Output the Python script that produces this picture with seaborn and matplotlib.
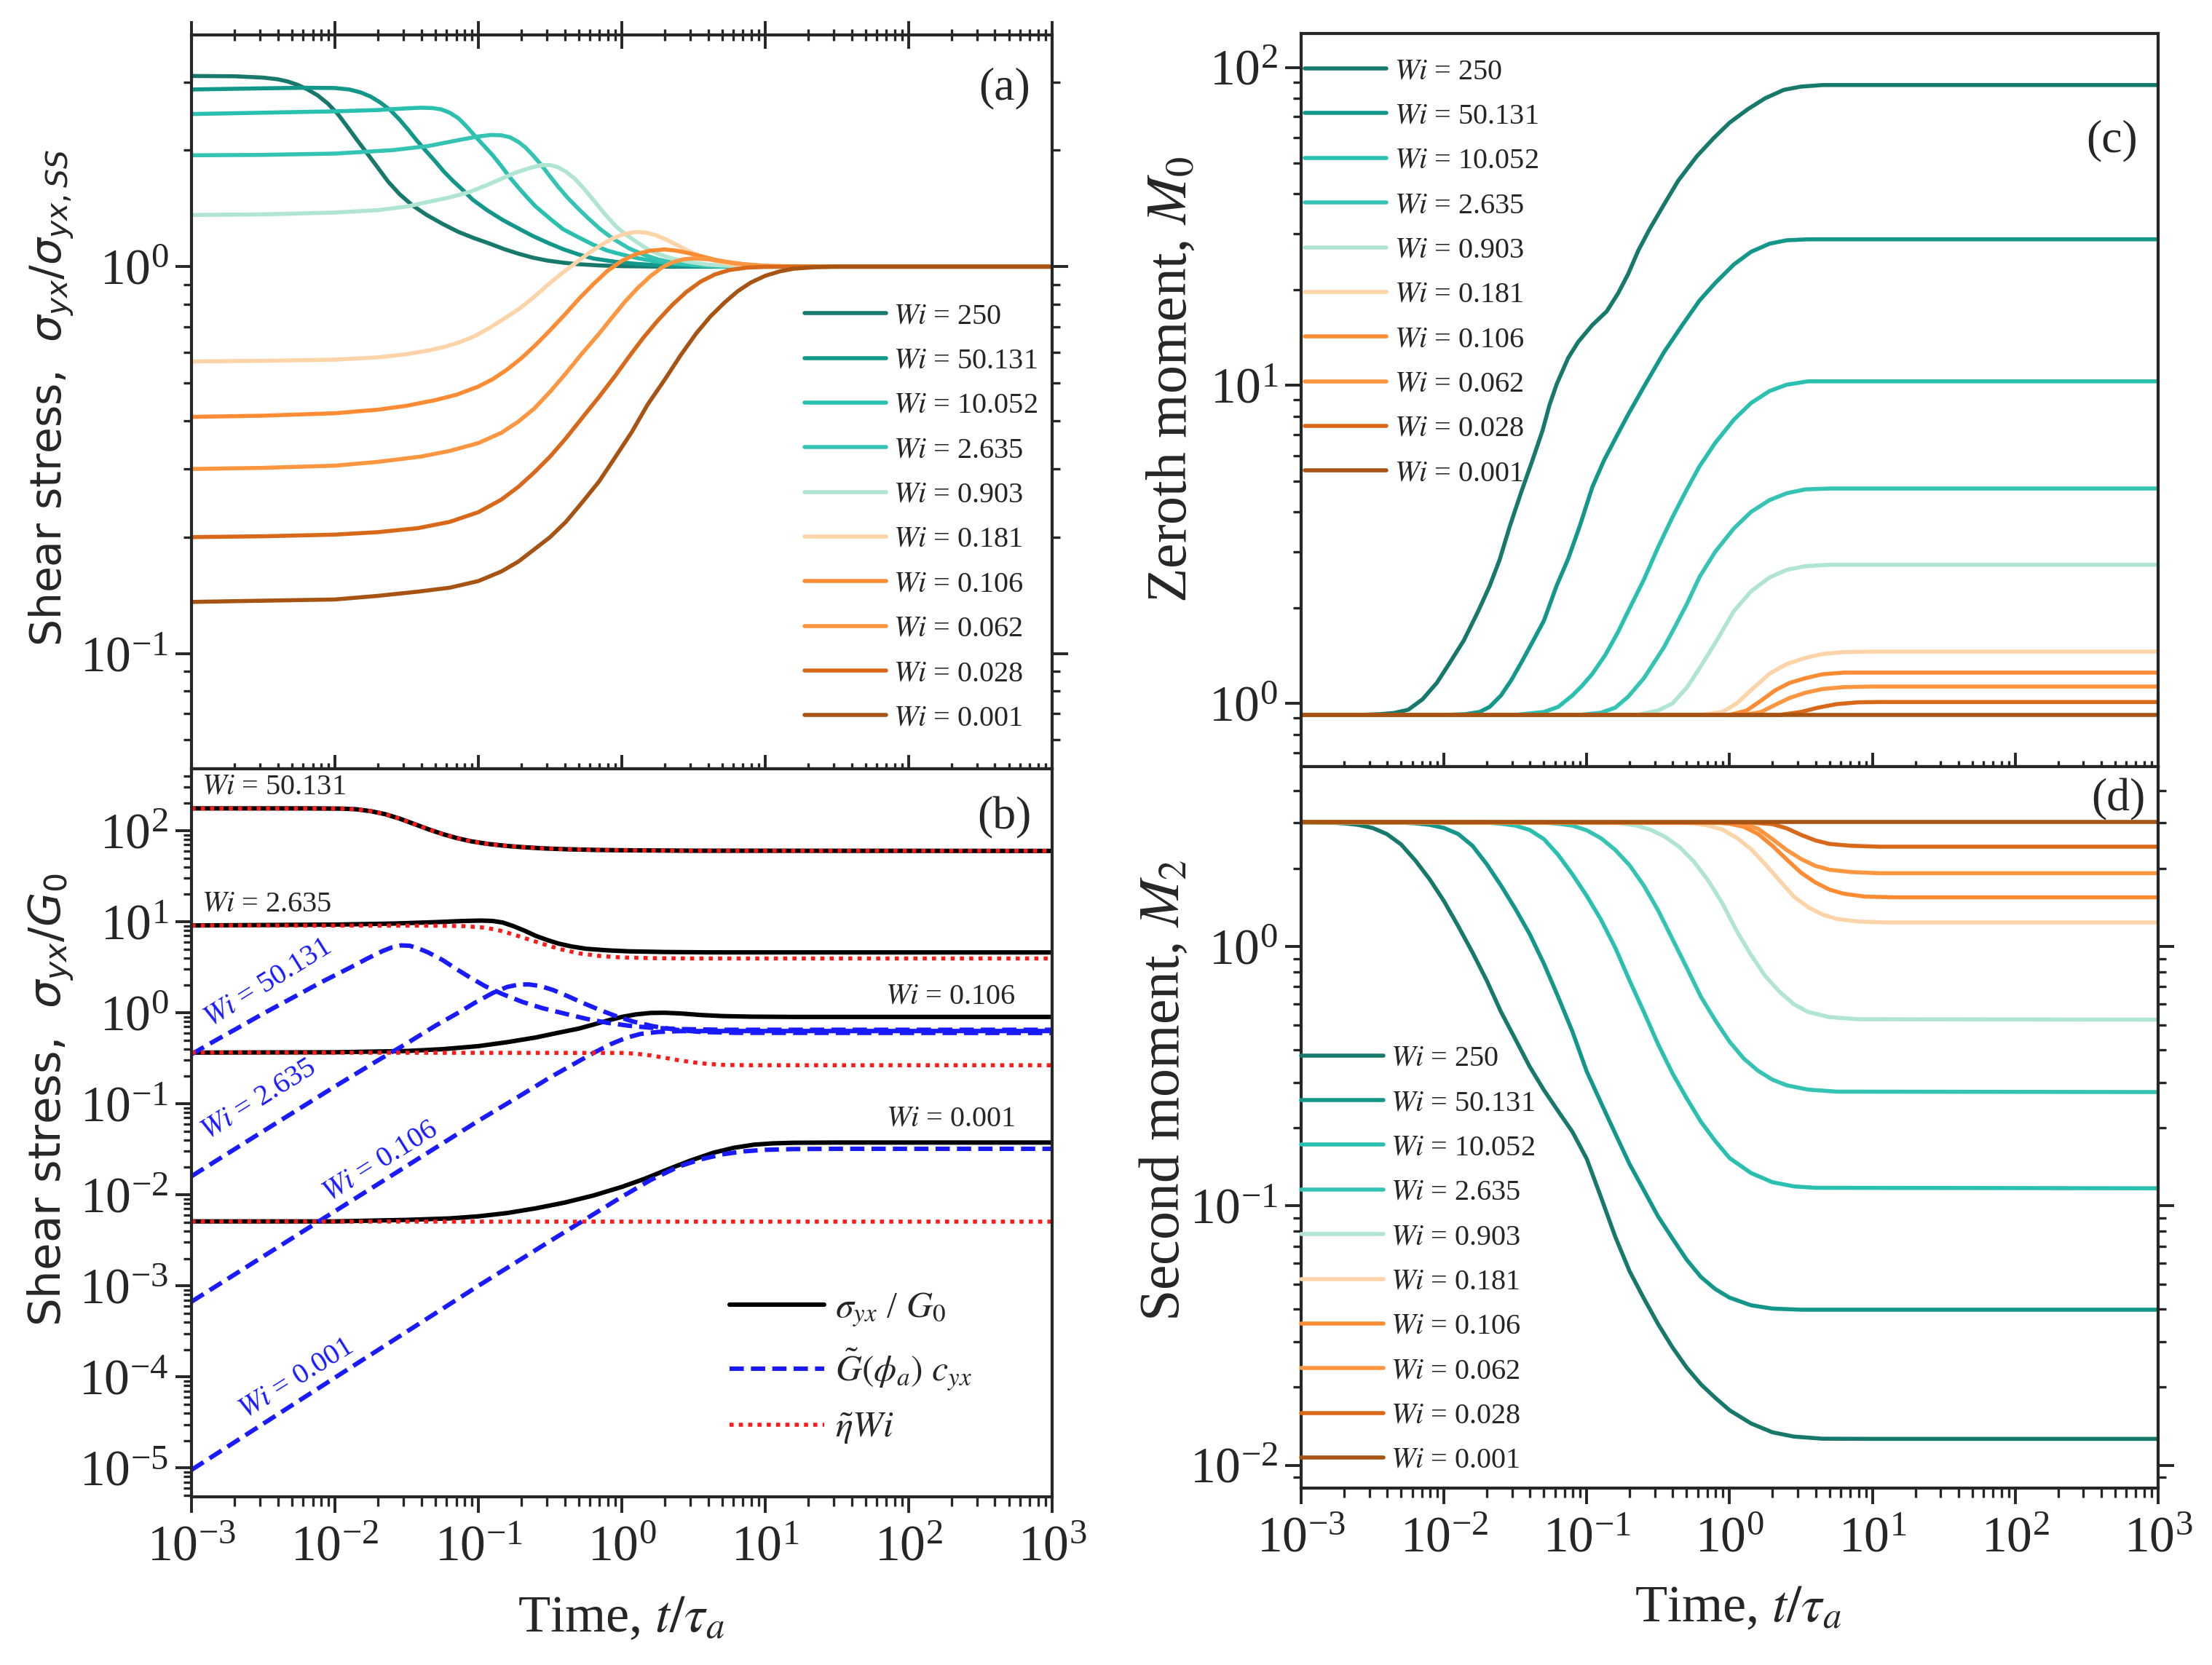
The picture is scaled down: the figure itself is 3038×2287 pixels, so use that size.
import numpy as np
import matplotlib
matplotlib.use("Agg")
import matplotlib.pyplot as plt
import seaborn as sns
from matplotlib.ticker import NullFormatter

# Wi values shown in panels (a), (c), (d) and their colours
wi_names = ["250", "50.131", "10.052", "2.635", "0.903", "0.181", "0.106", "0.062", "0.028", "0.001"]
wi_colors = ["#17786c", "#12978a", "#2ac0b0", "#35c4b3", "#b0e4d3",
             "#fdd3a8", "#fd8c35", "#fd9640", "#d9691a", "#a65313"]

# every curve is (log10 t/tau_a, value)
# (a) shear stress normalised by steady state
a_250 = [(-3, 3.11), (-2.7, 3.105), (-2.5, 3.08), (-2.4, 3.05), (-2.33, 3.01), (-2.26, 2.95), (-2.19, 2.87),
         (-2.12, 2.77), (-2.05, 2.64), (-1.98, 2.48), (-1.91, 2.29), (-1.84, 2.11), (-1.77, 1.95), (-1.7, 1.8),
         (-1.63, 1.66), (-1.55, 1.54), (-1.46, 1.44), (-1.36, 1.36), (-1.25, 1.29), (-1.14, 1.23),
         (-1.03, 1.185), (-0.93, 1.15), (-0.82, 1.11), (-0.72, 1.08), (-0.62, 1.055), (-0.52, 1.037),
         (-0.41, 1.024), (-0.31, 1.015), (-0.15, 1.007), (0, 1.003), (0.3, 1.0), (3, 1.0)]
a_50 = [(-3, 2.87), (-2.5, 2.89), (-2.2, 2.90), (-2.0, 2.895), (-1.9, 2.87), (-1.82, 2.82), (-1.75, 2.75),
        (-1.68, 2.65), (-1.61, 2.53), (-1.55, 2.40), (-1.49, 2.26), (-1.43, 2.12), (-1.36, 1.98), (-1.30, 1.87),
        (-1.24, 1.76), (-1.18, 1.67), (-1.11, 1.58), (-1.04, 1.49), (-0.94, 1.40), (-0.83, 1.32),
        (-0.72, 1.255), (-0.62, 1.20), (-0.51, 1.15), (-0.41, 1.11), (-0.3, 1.075), (-0.2, 1.05),
        (-0.05, 1.03), (0.1, 1.017), (0.3, 1.006), (0.5, 1.0), (3, 1.0)]
a_10 = [(-3, 2.48), (-2.5, 2.50), (-2.0, 2.52), (-1.7, 2.54), (-1.5, 2.565), (-1.4, 2.575), (-1.32, 2.57),
        (-1.26, 2.55), (-1.2, 2.50), (-1.14, 2.42), (-1.09, 2.32), (-1.03, 2.19), (-0.97, 2.07), (-0.9, 1.94),
        (-0.84, 1.82), (-0.78, 1.70), (-0.72, 1.60), (-0.66, 1.51), (-0.6, 1.43), (-0.5, 1.33), (-0.41, 1.25),
        (-0.3, 1.19), (-0.2, 1.14), (-0.1, 1.10), (0, 1.075), (0.12, 1.05), (0.25, 1.03), (0.4, 1.015),
        (0.6, 1.005), (0.9, 1.0), (3, 1.0)]
a_2 = [(-3, 1.94), (-2.5, 1.945), (-2.0, 1.96), (-1.6, 2.0), (-1.35, 2.05), (-1.12, 2.13), (-1.0, 2.17),
       (-0.91, 2.19), (-0.84, 2.185), (-0.78, 2.16), (-0.72, 2.10), (-0.67, 2.03), (-0.62, 1.94), (-0.56, 1.83),
       (-0.51, 1.73), (-0.45, 1.62), (-0.38, 1.51), (-0.31, 1.42), (-0.24, 1.34), (-0.15, 1.25), (-0.06, 1.18),
       (0.05, 1.115), (0.15, 1.075), (0.25, 1.045), (0.35, 1.025), (0.5, 1.01), (0.7, 1.0), (3, 1.0)]
a_09 = [(-3, 1.36), (-2.5, 1.365), (-2.0, 1.38), (-1.7, 1.40), (-1.5, 1.43), (-1.35, 1.47), (-1.2, 1.51),
        (-1.06, 1.56), (-0.95, 1.62), (-0.85, 1.68), (-0.74, 1.75), (-0.64, 1.80), (-0.56, 1.83), (-0.5, 1.83),
        (-0.45, 1.81), (-0.39, 1.76), (-0.33, 1.69), (-0.27, 1.60), (-0.2, 1.49), (-0.12, 1.37), (-0.04, 1.27),
        (0.03, 1.21), (0.1, 1.16), (0.18, 1.11), (0.25, 1.08), (0.35, 1.05), (0.46, 1.03), (0.6, 1.012),
        (0.8, 1.003), (1.0, 1.0), (3, 1.0)]
a_018 = [(-3, 0.569), (-2.5, 0.571), (-2.0, 0.575), (-1.7, 0.583), (-1.5, 0.594), (-1.35, 0.607), (-1.24, 0.62),
         (-1.14, 0.636), (-1.03, 0.66), (-0.93, 0.692), (-0.83, 0.73), (-0.72, 0.776), (-0.62, 0.83),
         (-0.52, 0.895), (-0.42, 0.96), (-0.31, 1.03), (-0.22, 1.09), (-0.14, 1.14), (-0.06, 1.185),
         (0.02, 1.215), (0.1, 1.23), (0.17, 1.225), (0.24, 1.205), (0.31, 1.175), (0.38, 1.14), (0.46, 1.10),
         (0.56, 1.06), (0.67, 1.03), (0.78, 1.013), (0.9, 1.004), (1.1, 1.0), (3, 1.0)]
a_010 = [(-3, 0.409), (-2.5, 0.412), (-2.0, 0.418), (-1.7, 0.427), (-1.5, 0.437), (-1.3, 0.452), (-1.15, 0.467),
         (-1.0, 0.49), (-0.9, 0.512), (-0.8, 0.542), (-0.7, 0.58), (-0.6, 0.628), (-0.5, 0.685), (-0.4, 0.75),
         (-0.3, 0.825), (-0.2, 0.9), (-0.1, 0.975), (0.0, 1.035), (0.1, 1.078), (0.2, 1.10), (0.3, 1.108),
         (0.38, 1.10), (0.46, 1.085), (0.55, 1.065), (0.65, 1.042), (0.77, 1.022), (0.9, 1.01), (1.05, 1.003),
         (1.2, 1.0), (3, 1.0)]
a_006 = [(-3, 0.30), (-2.5, 0.302), (-2.0, 0.306), (-1.7, 0.313), (-1.4, 0.323), (-1.2, 0.334), (-1.0, 0.35),
         (-0.84, 0.372), (-0.72, 0.398), (-0.61, 0.43), (-0.5, 0.475), (-0.39, 0.53), (-0.28, 0.595),
         (-0.16, 0.67), (-0.06, 0.745), (0.02, 0.81), (0.11, 0.88), (0.2, 0.945), (0.28, 0.995), (0.35, 1.025),
         (0.43, 1.045), (0.5, 1.05), (0.6, 1.045), (0.7, 1.032), (0.85, 1.015), (1.0, 1.005), (1.3, 1.0), (3, 1.0)]
a_002 = [(-3, 0.20), (-2.5, 0.201), (-2.0, 0.203), (-1.7, 0.206), (-1.42, 0.211), (-1.2, 0.219), (-1.0, 0.232),
         (-0.84, 0.25), (-0.72, 0.27), (-0.61, 0.294), (-0.5, 0.323), (-0.39, 0.36), (-0.28, 0.405),
         (-0.16, 0.46), (-0.05, 0.52), (0.05, 0.585), (0.15, 0.655), (0.25, 0.725), (0.35, 0.795), (0.45, 0.86),
         (0.55, 0.915), (0.65, 0.955), (0.75, 0.98), (0.87, 0.994), (1.0, 0.999), (1.2, 1.0), (3, 1.0)]
a_0001 = [(-3, 0.136), (-2.5, 0.137), (-2.0, 0.138), (-1.7, 0.141), (-1.42, 0.1446), (-1.2, 0.148), (-1.0, 0.154),
          (-0.84, 0.163), (-0.72, 0.173), (-0.61, 0.186), (-0.5, 0.2), (-0.39, 0.219), (-0.28, 0.245),
          (-0.16, 0.278), (-0.05, 0.32), (0.07, 0.374), (0.18, 0.44), (0.3, 0.511), (0.41, 0.59), (0.52, 0.673),
          (0.62, 0.745), (0.72, 0.81), (0.81, 0.865), (0.9, 0.91), (1.0, 0.947), (1.1, 0.972), (1.2, 0.988),
          (1.35, 0.997), (1.5, 1.0), (3, 1.0)]

# (c) zeroth moment
c_250 = [(-3, 0.92), (-2.6, 0.92), (-2.45, 0.925), (-2.35, 0.933), (-2.25, 0.955), (-2.15, 1.03), (-2.05, 1.16),
         (-1.96, 1.34), (-1.86, 1.58), (-1.76, 1.95), (-1.68, 2.34), (-1.61, 2.83), (-1.54, 3.59), (-1.46, 4.6),
         (-1.38, 5.82), (-1.31, 7.2), (-1.26, 8.7), (-1.21, 10.1), (-1.13, 12.2), (-1.06, 13.7), (-0.96, 15.5),
         (-0.86, 17.1), (-0.78, 19.5), (-0.71, 22.4), (-0.64, 26.5), (-0.56, 31.0), (-0.46, 37.0), (-0.36, 44.0),
         (-0.23, 52.5), (-0.11, 60.0), (0.0, 67.0), (0.13, 74.0), (0.25, 80.0), (0.38, 85.0), (0.5, 87.0),
         (0.65, 88.0), (3, 88.0)]
c_50 = [(-3, 0.92), (-2.0, 0.92), (-1.85, 0.925), (-1.75, 0.94), (-1.68, 0.975), (-1.6, 1.06), (-1.53, 1.18),
        (-1.46, 1.34), (-1.38, 1.56), (-1.3, 1.82), (-1.21, 2.35), (-1.13, 2.85), (-1.05, 3.6), (-0.96, 4.8),
        (-0.88, 5.8), (-0.8, 6.8), (-0.71, 8.1), (-0.6, 9.9), (-0.46, 12.7), (-0.33, 15.5), (-0.21, 18.5),
        (-0.1, 21.0), (0.03, 24.0), (0.15, 26.3), (0.28, 27.9), (0.4, 28.6), (0.55, 28.8), (3, 28.8)]
c_10 = [(-3, 0.92), (-1.5, 0.92), (-1.3, 0.94), (-1.2, 0.975), (-1.1, 1.06), (-1.03, 1.14), (-0.96, 1.24),
        (-0.87, 1.42), (-0.78, 1.68), (-0.71, 1.95), (-0.6, 2.45), (-0.5, 3.1), (-0.4, 3.85), (-0.3, 4.7),
        (-0.21, 5.57), (-0.1, 6.6), (0.03, 7.8), (0.15, 8.8), (0.28, 9.6), (0.4, 10.05), (0.55, 10.3),
        (0.7, 10.3), (3, 10.3)]
c_2 = [(-3, 0.92), (-1.05, 0.92), (-0.9, 0.935), (-0.8, 0.97), (-0.71, 1.05), (-0.6, 1.2), (-0.46, 1.5),
       (-0.38, 1.75), (-0.3, 2.05), (-0.21, 2.5), (-0.1, 3.0), (0.03, 3.55), (0.15, 4.0), (0.28, 4.36),
       (0.4, 4.58), (0.53, 4.71), (0.7, 4.74), (3, 4.74)]
c_09 = [(-3, 0.92), (-0.65, 0.92), (-0.5, 0.95), (-0.4, 1.0), (-0.3, 1.12), (-0.21, 1.29), (-0.1, 1.55),
        (0.03, 1.95), (0.15, 2.25), (0.28, 2.49), (0.4, 2.63), (0.53, 2.70), (0.7, 2.73), (3, 2.73)]
c_018 = [(-3, 0.92), (-0.2, 0.92), (-0.05, 0.94), (0.05, 1.0), (0.15, 1.1), (0.28, 1.24), (0.4, 1.33),
         (0.53, 1.39), (0.65, 1.43), (0.8, 1.45), (1.0, 1.455), (3, 1.455)]
c_010 = [(-3, 0.92), (0.0, 0.92), (0.12, 0.95), (0.22, 1.02), (0.32, 1.1), (0.42, 1.16), (0.53, 1.2),
         (0.65, 1.235), (0.8, 1.25), (3, 1.25)]
c_006 = [(-3, 0.92), (0.1, 0.92), (0.22, 0.94), (0.32, 0.99), (0.42, 1.04), (0.53, 1.08), (0.65, 1.11),
         (0.8, 1.125), (1.0, 1.13), (3, 1.13)]
c_002 = [(-3, 0.92), (0.35, 0.92), (0.5, 0.94), (0.62, 0.97), (0.75, 0.995), (0.9, 1.008), (1.05, 1.01), (3, 1.01)]
c_0001 = [(-3, 0.92), (3, 0.92)]

# (d) second moment
d_250 = [(-3, 3.02), (-2.8, 3.01), (-2.7, 2.99), (-2.6, 2.95), (-2.5, 2.87), (-2.4, 2.72), (-2.3, 2.48),
         (-2.2, 2.15), (-2.1, 1.82), (-2.0, 1.50), (-1.9, 1.20), (-1.8, 0.95), (-1.7, 0.74), (-1.6, 0.56),
         (-1.5, 0.44), (-1.4, 0.345), (-1.3, 0.28), (-1.2, 0.232), (-1.1, 0.193), (-1.0, 0.152), (-0.9, 0.108),
         (-0.8, 0.076), (-0.7, 0.056), (-0.6, 0.044), (-0.5, 0.035), (-0.4, 0.0285), (-0.3, 0.0238),
         (-0.2, 0.0205), (-0.1, 0.0182), (0.0, 0.0163), (0.15, 0.0145), (0.3, 0.0134), (0.45, 0.0129),
         (0.65, 0.01266), (1.0, 0.01264), (3, 0.01264)]
d_50 = [(-3, 3.02), (-2.3, 3.01), (-2.2, 2.99), (-2.1, 2.95), (-2.0, 2.87), (-1.9, 2.72), (-1.8, 2.45),
        (-1.7, 2.08), (-1.6, 1.72), (-1.5, 1.40), (-1.4, 1.12), (-1.3, 0.86), (-1.2, 0.64), (-1.1, 0.47),
        (-1.0, 0.33), (-0.9, 0.25), (-0.8, 0.19), (-0.7, 0.145), (-0.6, 0.115), (-0.5, 0.091), (-0.4, 0.075),
        (-0.3, 0.062), (-0.2, 0.0532), (-0.1, 0.0478), (0.0, 0.0443), (0.15, 0.0414), (0.3, 0.0402),
        (0.5, 0.0398), (3, 0.0398)]
d_10 = [(-3, 3.02), (-1.7, 3.01), (-1.6, 2.98), (-1.5, 2.93), (-1.4, 2.82), (-1.3, 2.6), (-1.2, 2.26),
        (-1.1, 1.9), (-1.0, 1.57), (-0.9, 1.27), (-0.8, 0.99), (-0.7, 0.74), (-0.6, 0.56), (-0.5, 0.42),
        (-0.4, 0.325), (-0.3, 0.26), (-0.2, 0.211), (-0.1, 0.178), (0.0, 0.153), (0.15, 0.134), (0.3, 0.1235),
        (0.45, 0.119), (0.6, 0.1175), (3, 0.117)]
d_2 = [(-3, 3.02), (-1.3, 3.01), (-1.2, 2.98), (-1.1, 2.93), (-1.0, 2.81), (-0.9, 2.62), (-0.8, 2.36),
       (-0.7, 2.06), (-0.6, 1.72), (-0.5, 1.38), (-0.4, 1.07), (-0.3, 0.83), (-0.2, 0.64), (-0.1, 0.52),
       (0.0, 0.43), (0.1, 0.37), (0.2, 0.332), (0.3, 0.307), (0.4, 0.292), (0.55, 0.281), (0.75, 0.276),
       (3, 0.275)]
d_09 = [(-3, 3.02), (-0.85, 3.01), (-0.75, 2.99), (-0.65, 2.93), (-0.55, 2.82), (-0.45, 2.65), (-0.35, 2.42),
        (-0.25, 2.13), (-0.15, 1.8), (-0.05, 1.47), (0.05, 1.15), (0.15, 0.93), (0.25, 0.77), (0.35, 0.67),
        (0.45, 0.6), (0.55, 0.56), (0.7, 0.535), (0.9, 0.525), (3, 0.523)]
d_018 = [(-3, 3.02), (-0.35, 3.01), (-0.25, 2.99), (-0.15, 2.93), (-0.05, 2.83), (0.05, 2.63), (0.15, 2.38),
         (0.25, 2.08), (0.35, 1.8), (0.45, 1.56), (0.55, 1.42), (0.65, 1.33), (0.75, 1.28), (0.9, 1.25),
         (1.1, 1.24), (3, 1.24)]
d_010 = [(-3, 3.02), (-0.1, 3.01), (0.0, 2.98), (0.1, 2.9), (0.2, 2.72), (0.3, 2.45), (0.4, 2.17), (0.5, 1.93),
         (0.6, 1.77), (0.7, 1.66), (0.8, 1.6), (0.95, 1.56), (1.15, 1.55), (3, 1.55)]
d_006 = [(-3, 3.02), (0.0, 3.01), (0.1, 2.97), (0.2, 2.85), (0.3, 2.6), (0.4, 2.36), (0.5, 2.18), (0.6, 2.05),
         (0.7, 1.98), (0.85, 1.94), (1.05, 1.92), (3, 1.92)]
d_002 = [(-3, 3.02), (0.15, 3.01), (0.3, 2.97), (0.4, 2.86), (0.5, 2.7), (0.6, 2.57), (0.7, 2.49), (0.85, 2.45),
         (1.05, 2.43), (3, 2.43)]
d_0001 = [(-3, 3.02), (3, 3.02)]

# (b) sigma_yx/G0 (black), G(phi) c_yx (blue), eta*Wi (red)
b_wi = ["50.131", "2.635", "0.106", "0.001"]
b_sig_50 = [(-3, 176), (-2.2, 176), (-1.95, 175), (-1.85, 172), (-1.75, 164), (-1.65, 152), (-1.55, 136),
            (-1.45, 119), (-1.35, 104), (-1.25, 92), (-1.15, 83), (-1.05, 76.5), (-0.93, 71.5), (-0.8, 68),
            (-0.69, 66), (-0.55, 64), (-0.4, 62.7), (-0.2, 61.6), (0.0, 61), (0.5, 60.3), (3, 60)]
b_sig_2 = [(-3, 9.1), (-2.5, 9.2), (-2.0, 9.3), (-1.6, 9.55), (-1.3, 9.9), (-1.1, 10.2), (-0.98, 10.3),
           (-0.9, 10.2), (-0.83, 9.8), (-0.76, 9.0), (-0.68, 8.0), (-0.6, 7.0), (-0.52, 6.3), (-0.44, 5.75),
           (-0.35, 5.35), (-0.25, 5.05), (-0.1, 4.85), (0.05, 4.73), (0.3, 4.65), (0.6, 4.61), (3, 4.6)]
b_sig_01 = [(-3, 0.365), (-2.0, 0.368), (-1.5, 0.38), (-1.25, 0.398), (-1.0, 0.43), (-0.8, 0.475), (-0.6, 0.535),
            (-0.45, 0.6), (-0.3, 0.67), (-0.2, 0.74), (-0.1, 0.82), (0.0, 0.9), (0.1, 0.96), (0.2, 0.995),
            (0.3, 1.0), (0.42, 0.98), (0.55, 0.945), (0.7, 0.92), (0.9, 0.906), (1.2, 0.9), (3, 0.90)]
b_sig_0001 = [(-3, 0.0051), (-2.0, 0.0051), (-1.5, 0.0053), (-1.2, 0.0055), (-1.0, 0.0058), (-0.8, 0.0063),
              (-0.6, 0.0071), (-0.4, 0.0082), (-0.2, 0.0098), (0.0, 0.0122), (0.16, 0.015), (0.32, 0.019),
              (0.48, 0.0238), (0.64, 0.029), (0.78, 0.0328), (0.92, 0.0355), (1.05, 0.0367), (1.2, 0.0373),
              (1.5, 0.0375), (3, 0.0375)]
b_c_50 = [(-3, 0.35), (-2.85, 0.48), (-2.7, 0.65), (-2.5, 0.98), (-2.3, 1.45), (-2.1, 2.15), (-1.9, 3.1),
          (-1.78, 3.9), (-1.67, 4.75), (-1.6, 5.25), (-1.54, 5.5), (-1.48, 5.45), (-1.42, 5.1), (-1.35, 4.6),
          (-1.25, 3.8), (-1.15, 3.0), (-1.05, 2.4), (-0.95, 1.95), (-0.83, 1.6), (-0.69, 1.31), (-0.55, 1.12),
          (-0.4, 0.98), (-0.25, 0.86), (-0.1, 0.775), (0.05, 0.72), (0.2, 0.685), (0.4, 0.662), (0.7, 0.65),
          (3, 0.65)]
b_c_2 = [(-3, 0.016), (-2.5, 0.05), (-2.0, 0.155), (-1.7, 0.3), (-1.5, 0.46), (-1.3, 0.72), (-1.15, 0.98),
         (-1.02, 1.3), (-0.9, 1.65), (-0.8, 1.92), (-0.72, 2.04), (-0.65, 2.05), (-0.57, 1.97), (-0.48, 1.78),
         (-0.38, 1.53), (-0.28, 1.3), (-0.17, 1.1), (-0.05, 0.93), (0.08, 0.8), (0.22, 0.71), (0.38, 0.65),
         (0.55, 0.615), (0.8, 0.602), (3, 0.60)]
b_c_01 = [(-3, 6.7e-4), (-2.0, 6.6e-3), (-1.0, 0.065), (-0.7, 0.125), (-0.5, 0.195), (-0.35, 0.265), (-0.2, 0.36),
          (-0.08, 0.45), (0.03, 0.53), (0.13, 0.585), (0.25, 0.615), (0.4, 0.628), (0.6, 0.63), (3, 0.63)]
b_c_0001 = [(-3, 9.5e-6), (-2.0, 9.8e-5), (-1.0, 1.0e-3), (-0.5, 3.1e-3), (0.0, 0.0095), (0.2, 0.0145),
            (0.4, 0.0205), (0.55, 0.0245), (0.7, 0.0278), (0.85, 0.0300), (1.0, 0.0312), (1.2, 0.0318),
            (1.5, 0.032), (3, 0.032)]
b_eta_50 = [(-3, 176), (-2.2, 176), (-1.95, 175), (-1.85, 172), (-1.75, 164), (-1.65, 152), (-1.55, 136),
            (-1.45, 119), (-1.35, 104), (-1.25, 92), (-1.15, 83), (-1.05, 76.5), (-0.93, 71.5), (-0.8, 68),
            (-0.69, 66), (-0.55, 64), (-0.4, 62.7), (-0.2, 61.6), (0.0, 61), (0.5, 60.3), (3, 60)]
b_eta_2 = [(-3, 9.1), (-1.3, 9.05), (-1.1, 8.95), (-0.95, 8.6), (-0.85, 8.0), (-0.75, 7.2), (-0.65, 6.4),
           (-0.55, 5.7), (-0.43, 5.0), (-0.3, 4.5), (-0.15, 4.2), (0.0, 4.05), (0.25, 3.97), (0.5, 3.95), (3, 3.95)]
b_eta_01 = [(-3, 0.365), (0.0, 0.362), (0.1, 0.355), (0.2, 0.34), (0.3, 0.32), (0.4, 0.3), (0.5, 0.285),
            (0.6, 0.274), (0.72, 0.267), (0.9, 0.265), (3, 0.265)]
b_eta_0001 = [(-3, 0.0051), (3, 0.0051)]

a_curves = [a_250, a_50, a_10, a_2, a_09, a_018, a_010, a_006, a_002, a_0001]
c_curves = [c_250, c_50, c_10, c_2, c_09, c_018, c_010, c_006, c_002, c_0001]
d_curves = [d_250, d_50, d_10, d_2, d_09, d_018, d_010, d_006, d_002, d_0001]
b_sig = [b_sig_50, b_sig_2, b_sig_01, b_sig_0001]
b_c = [b_c_50, b_c_2, b_c_01, b_c_0001]
b_eta = [b_eta_50, b_eta_2, b_eta_01, b_eta_0001]

# blue tags along the dashed lines (log10 t, value)
blue_tag_t = [-2.47, -2.53, -1.68, -2.27]
blue_tag_v = [2.1, 0.11, 0.023, 9.5e-5]

sns.set_style("ticks")
plt.rcParams["font.family"] = ["Liberation Serif", "DejaVu Serif"]
plt.rcParams["mathtext.fontset"] = "stix"
plt.rcParams["axes.linewidth"] = 1.5

TICK = 25
LEG = 14.5
LEG_KW = dict(frameon=False, fontsize=LEG, handlelength=2.8, handletextpad=0.25, labelspacing=0.6,
              borderpad=0, borderaxespad=0)


def draw(ax, pts, **kw):
    lt, v = np.array(pts, dtype=float).T
    sns.lineplot(x=10.0 ** lt, y=v, ax=ax, estimator=None, legend=False, **kw)


def decade_ticks(axis, lo, hi):
    # only ticks inside the visible range
    e0 = int(np.ceil(np.log10(lo) - 1e-9))
    e1 = int(np.floor(np.log10(hi) + 1e-9))
    axis.set_ticks(10.0 ** np.arange(e0, e1 + 1))
    minor = [m * 10.0 ** e for e in range(e0 - 1, e1 + 1) for m in range(2, 10)
             if lo <= m * 10.0 ** e <= hi]
    axis.set_ticks(minor, minor=True)
    axis.set_minor_formatter(NullFormatter())


def log_axes(ax, ylim):
    ax.set_xscale("log")
    ax.set_yscale("log")
    ax.set_xlim(1e-3, 1e3)
    ax.set_ylim(*ylim)
    decade_ticks(ax.xaxis, 1e-3, 1e3)
    decade_ticks(ax.yaxis, *ylim)
    ax.tick_params(labelsize=TICK, width=1.4)
    ax.tick_params(which="minor", width=1.2)
    ax.set_xlabel("")
    ax.set_ylabel("")


def x_boundary(ax):
    # ticks crossing the shared border, no labels
    ax.tick_params(axis="x", which="both", direction="inout", bottom=True, labelbottom=False)
    ax.tick_params(axis="x", which="major", length=14)
    ax.tick_params(axis="x", which="minor", length=6)


def x_bottom(ax):
    ax.tick_params(axis="x", which="both", direction="out", bottom=True, top=False)
    ax.tick_params(axis="x", which="major", length=8, pad=6)
    ax.tick_params(axis="x", which="minor", length=4.5)
    ax.set_xlabel(r"Time, $t/\tau_a$", fontsize=26)


def y_out(ax, right=False):
    ax.tick_params(axis="y", which="both", direction="out", left=True, right=right)
    ax.tick_params(axis="y", which="major", length=8)
    ax.tick_params(axis="y", which="minor", length=4)


fig = plt.figure(figsize=(15.19, 11.435))
ax_a = fig.add_axes([0.0866, 0.5383, 0.389, 0.4407])
ax_b = fig.add_axes([0.0866, 0.101, 0.389, 0.4373])
ax_c = fig.add_axes([0.5882, 0.5396, 0.3874, 0.4404])
ax_d = fig.add_axes([0.5882, 0.1063, 0.3874, 0.4333])

wi_labels = [r"$Wi$ = " + w for w in wi_names]

# (a)
for pts, col, lab in zip(a_curves, wi_colors, wi_labels):
    draw(ax_a, pts, color=col, linewidth=2.0, label=lab)
log_axes(ax_a, (0.0504, 3.97))
x_boundary(ax_a)
ax_a.tick_params(axis="x", which="both", top=True)
y_out(ax_a, right=True)
ax_a.set_ylabel(r"Shear stress,  $\sigma_{yx}/\sigma_{yx,SS}$", fontsize=21,
                family="DejaVu Sans", math_fontfamily="dejavusans")
ax_a.yaxis.set_label_coords(-0.135, 0.506)
ax_a.legend(loc="lower left", bbox_to_anchor=(0.712, 0.05), **LEG_KW)
ax_a.text(0.945, 0.927, "(a)", transform=ax_a.transAxes, fontsize=23, ha="center", va="center")

# (b)
for i in range(4):
    draw(ax_b, b_sig[i], color="black", linewidth=2.2,
         label=r"$\sigma_{yx}$ / $G_0$" if i == 0 else "_nolegend_")
for i in range(4):
    draw(ax_b, b_c[i], color="#1a1aff", linewidth=2.2, linestyle=(0, (3.2, 1.6)),
         label=r"$\tilde{G}(\phi_a)\ c_{yx}$" if i == 0 else "_nolegend_")
for i in range(4):
    draw(ax_b, b_eta[i], color="#ff1a1a", linewidth=2.0, linestyle=(0, (1, 1.3)),
         label=r"$\tilde{\eta}Wi$" if i == 0 else "_nolegend_")
log_axes(ax_b, (4.8e-6, 480))
x_bottom(ax_b)
y_out(ax_b)
ax_b.set_ylabel(r"Shear stress,  $\sigma_{yx}/G_0$", fontsize=22,
                family="DejaVu Sans", math_fontfamily="dejavusans")
ax_b.yaxis.set_label_coords(-0.135, 0.545)
ax_b.xaxis.set_label_coords(0.499, -0.135)
ax_b.legend(loc="lower left", bbox_to_anchor=(0.625, 0.07), frameon=False, fontsize=18,
            handlelength=2.6, handletextpad=0.3, labelspacing=0.5, borderpad=0, borderaxespad=0)
ax_b.text(0.945, 0.932, "(b)", transform=ax_b.transAxes, fontsize=23, ha="center", va="center")

# black Wi tags
ax_b.text(10 ** -2.93, 300, r"$Wi$ = " + b_wi[0], fontsize=LEG, ha="left", va="center")
ax_b.text(10 ** -2.93, 15.5, r"$Wi$ = " + b_wi[1], fontsize=LEG, ha="left", va="center")
ax_b.text(10 ** 2.745, 1.5, r"$Wi$ = " + b_wi[2], fontsize=LEG, ha="right", va="center")
ax_b.text(10 ** 2.745, 0.068, r"$Wi$ = " + b_wi[3], fontsize=LEG, ha="right", va="center")
for lt, v, w in zip(blue_tag_t, blue_tag_v, b_wi):
    ax_b.text(10 ** lt, v, r"$Wi$ = " + w, fontsize=LEG, color="#1a1aff", rotation=32,
              rotation_mode="anchor", ha="center", va="center")

# (c)
for pts, col, lab in zip(c_curves, wi_colors, wi_labels):
    draw(ax_c, pts, color=col, linewidth=2.0, label=lab)
log_axes(ax_c, (0.633, 128))
x_boundary(ax_c)
y_out(ax_c)
ax_c.set_ylabel(r"Zeroth moment, $M_0$", fontsize=28)
ax_c.yaxis.set_label_coords(-0.12, 0.528)
ax_c.legend(loc="upper left", bbox_to_anchor=(0.004, 0.966), **LEG_KW)
ax_c.text(0.946, 0.853, "(c)", transform=ax_c.transAxes, fontsize=23, ha="center", va="center")

# (d)
for pts, col, lab in zip(d_curves, wi_colors, wi_labels):
    draw(ax_d, pts, color=col, linewidth=2.0, label=lab)
log_axes(ax_d, (0.00817, 4.95))
x_bottom(ax_d)
y_out(ax_d, right=True)
ax_d.set_ylabel(r"Second moment, $M_2$", fontsize=28)
ax_d.yaxis.set_label_coords(-0.128, 0.551)
ax_d.xaxis.set_label_coords(0.51, -0.135)
ax_d.legend(loc="lower left", bbox_to_anchor=(0.0, 0.019), **LEG_KW)
ax_d.text(0.954, 0.954, "(d)", transform=ax_d.transAxes, fontsize=23, ha="center", va="center")

fig.savefig("out.png", dpi=200)
